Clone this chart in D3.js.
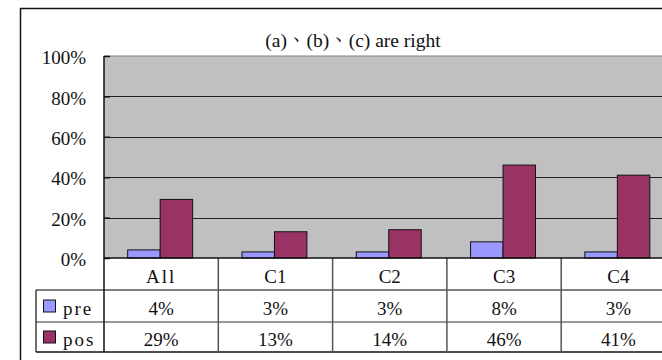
<!DOCTYPE html>
<html>
<head>
<meta charset="utf-8">
<script src="https://cdn.jsdelivr.net/npm/d3@7"></script>
<style>
  html, body { margin: 0; padding: 0; background: #fff; overflow: hidden; }
  svg { display: block; }
  .lbl { font-family: "Liberation Serif", "Noto Serif CJK TC", serif; fill: #111; }
  .title { font-family: "Liberation Serif", "Noto Serif CJK TC", serif; fill: #111; }
</style>
</head>
<body>
<svg id="chart" width="662" height="360"></svg>
<script>
// Chart data
const title = "(a)、(b)、(c) are right";
const categories = ["All", "C1", "C2", "C3", "C4"];
const seriesNames = ["pre", "pos"];
const preValues = [4, 3, 3, 8, 3];
const posValues = [29, 13, 14, 46, 41];
const yTicks = [0, 20, 40, 60, 80, 100];
const seriesColors = ["#9999FF", "#993366"];

const series = [preValues, posValues];

const svg = d3.select("#chart");

// Geometry of plot and data table
const plot = { left: 104, top: 56, bottom: 258 };
const catWidth = 114.3;
plot.right = plot.left + catWidth * categories.length;
const rowTop = [258, 290, 322, 352]; // category row, pre row, pos row, table bottom
const tableLeft = 36;
const fs = 19;

// Word labels get a little extra tracking
function tracked(sel) {
  sel.attr("letter-spacing", function () {
    return /^[A-Za-z]{3,}$/.test(d3.select(this).text()) ? 2 : null;
  });
}

// Outer frame
svg.append("rect")
  .attr("x", 20.5).attr("y", 8.5)
  .attr("width", 700).attr("height", 400)
  .attr("fill", "#fff").attr("stroke", "#111").attr("stroke-width", 1.5);

const x0 = d3.scaleBand().domain(categories).range([plot.left, plot.right]).paddingInner(0).paddingOuter(0);
const x1 = d3.scaleBand().domain(seriesNames).range([0, x0.bandwidth()]).paddingInner(0).paddingOuter(0.76);
const y = d3.scaleLinear().domain([0, 100]).range([plot.bottom, plot.top]);

// Plot background
svg.append("rect")
  .attr("x", plot.left).attr("y", plot.top)
  .attr("width", plot.right - plot.left).attr("height", plot.bottom - plot.top)
  .attr("fill", "#C0C0C0");

// Top border of the plot area
svg.append("line")
  .attr("x1", plot.left).attr("x2", plot.right)
  .attr("y1", y(100)).attr("y2", y(100))
  .attr("stroke", "#808080").attr("stroke-width", 1);

// Gridlines
svg.append("g").selectAll("line")
  .data(yTicks.filter(t => t > 0 && t < 100))
  .join("line")
  .attr("x1", plot.left).attr("x2", plot.right)
  .attr("y1", d => Math.round(y(d)) + 0.5).attr("y2", d => Math.round(y(d)) + 0.5)
  .attr("stroke", "#222").attr("stroke-width", 1);

// Y axis with inward ticks and labels
const yAxis = d3.axisLeft(y).tickValues(yTicks).tickFormat(d => d + "%").tickSize(-6).tickPadding(18);
const gy = svg.append("g").attr("transform", `translate(${plot.left},0)`).call(yAxis);
gy.select(".domain").remove();
gy.attr("font-family", null).attr("font-size", null);
gy.selectAll(".tick line").attr("stroke", "#111").attr("stroke-width", 1.5);
gy.selectAll(".tick text")
  .attr("class", "lbl")
  .attr("font-size", fs)
  .attr("dy", "0.33em")
  .attr("transform", "translate(0,1.5)");

// Bars
const groups = svg.append("g").selectAll("g")
  .data(categories)
  .join("g")
  .attr("transform", d => `translate(${x0(d) - 1},0)`);

groups.selectAll("rect")
  .data((d, i) => seriesNames.map((s, j) => ({ s, v: series[j][i], j })))
  .join("rect")
  .attr("x", d => x1(d.s))
  .attr("y", d => y(d.v))
  .attr("width", x1.bandwidth())
  .attr("height", d => y(0) - y(d.v))
  .attr("fill", d => seriesColors[d.j])
  .attr("stroke", "#111")
  .attr("stroke-width", 1);

// Title
svg.append("text")
  .attr("class", "title")
  .attr("x", 353).attr("y", 47)
  .attr("text-anchor", "middle")
  .attr("font-size", 19.5)
  .text(title);

// Data table lines
const tbl = svg.append("g");
tbl.append("line").attr("x1", tableLeft).attr("x2", plot.right).attr("y1", rowTop[1]).attr("y2", rowTop[1])
  .attr("stroke", "#555").attr("stroke-width", 1.5);
tbl.append("line").attr("x1", tableLeft).attr("x2", plot.right).attr("y1", rowTop[2]).attr("y2", rowTop[2])
  .attr("stroke", "#333").attr("stroke-width", 1.2);
tbl.append("line").attr("x1", tableLeft).attr("x2", plot.right).attr("y1", rowTop[3]).attr("y2", rowTop[3])
  .attr("stroke", "#111").attr("stroke-width", 1.5);
tbl.append("line").attr("x1", tableLeft).attr("x2", tableLeft).attr("y1", rowTop[1]).attr("y2", rowTop[3])
  .attr("stroke", "#111").attr("stroke-width", 1.2);
tbl.selectAll("line.sep")
  .data(categories.slice(1).concat(["_end"]))
  .join("line")
  .attr("class", "sep")
  .attr("x1", (d, i) => plot.left + catWidth * (i + 1))
  .attr("x2", (d, i) => plot.left + catWidth * (i + 1))
  .attr("y1", rowTop[0]).attr("y2", rowTop[3])
  .attr("stroke", "#555").attr("stroke-width", 1.5);

// Axis line at 0% and left edge of plot/table
svg.append("line").attr("x1", plot.left).attr("x2", plot.right).attr("y1", plot.bottom).attr("y2", plot.bottom)
  .attr("stroke", "#111").attr("stroke-width", 1.5);
svg.append("line").attr("x1", plot.left).attr("x2", plot.left).attr("y1", plot.top).attr("y2", rowTop[3])
  .attr("stroke", "#111").attr("stroke-width", 1.5);

// Category labels
svg.append("g").selectAll("text")
  .data(categories)
  .join("text")
  .attr("class", "lbl")
  .attr("x", d => x0(d) + x0.bandwidth() / 2)
  .attr("y", (rowTop[0] + rowTop[1]) / 2 + 2.5)
  .attr("dy", "0.33em")
  .attr("text-anchor", "middle")
  .attr("font-size", fs)
  .text(d => d)
  .call(tracked);

// Value rows with legend keys
seriesNames.forEach((name, j) => {
  const cy = (rowTop[j + 1] + rowTop[j + 2]) / 2;
  svg.append("rect")
    .attr("x", 43.5).attr("y", cy - 6)
    .attr("width", 12).attr("height", 12)
    .attr("fill", seriesColors[j]).attr("stroke", "#111").attr("stroke-width", 1);
  svg.append("text")
    .attr("class", "lbl")
    .attr("x", 63).attr("y", cy + 3).attr("dy", "0.33em")
    .attr("font-size", fs)
    .text(name)
    .call(tracked);
  svg.append("g").selectAll("text")
    .data(categories)
    .join("text")
    .attr("class", "lbl")
    .attr("x", d => x0(d) + x0.bandwidth() / 2)
    .attr("y", cy + 3).attr("dy", "0.33em")
    .attr("text-anchor", "middle")
    .attr("font-size", fs)
    .text((d, i) => series[j][i] + "%");
});
</script>
</body>
</html>
